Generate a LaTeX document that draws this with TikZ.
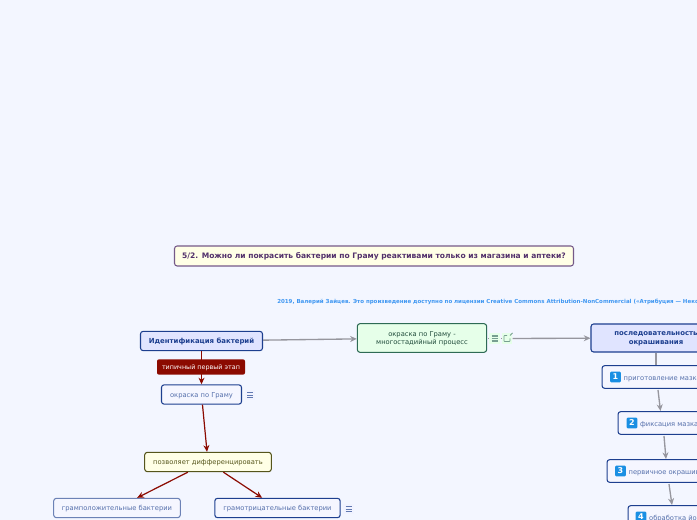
\documentclass[tikz,border=0pt]{standalone}
\usepackage{fontspec}
\setmainfont{DejaVu Sans}
\usetikzlibrary{positioning, arrows.meta, calc}
\definecolor{page}{HTML}{F3F6FF}
\definecolor{navy}{HTML}{1D3F8F}
\definecolor{lilac}{HTML}{E0E4FF}
\definecolor{pale}{HTML}{F5F6FF}
\definecolor{dunkelrot}{HTML}{8B0A00}
\definecolor{grau}{HTML}{96969E}
\definecolor{tannen}{HTML}{2E6B55}
\definecolor{mint}{HTML}{E6FFE9}
\definecolor{oliv}{HTML}{55551C}
\definecolor{creme}{HTML}{FFFFE6}
\definecolor{violett}{HTML}{52306B}
\definecolor{himmel}{HTML}{3F97F2}
\definecolor{kachel}{HTML}{1A8FE3}

\begin{document}
\begin{tikzpicture}[x=0.75pt, y=-0.75pt,
      box/.style={draw=navy, line width=0.8pt, rounded corners=2pt,
        fill=pale, text=navy!75, align=center, font=\fontsize{5.05}{6.4}\selectfont,
        inner sep=0pt, text height=5pt, text depth=1.2pt},
      zweizeilig/.style={text height=, text depth=0pt},
      wurzel/.style={box, fill=lilac, text=navy, font=\fontsize{5.2}{6.4}\selectfont\bfseries},
      frage/.style={box, draw=violett!80, fill=creme, text=violett,
        font=\fontsize{5.65}{7}\selectfont\bfseries},
      prozess/.style={box, draw=tannen, fill=mint, text=tannen!70!black},
      gelb/.style={box, draw=oliv, fill=creme, text=oliv},
      badge/.style={draw=none, rounded corners=1.5pt, fill=dunkelrot, text=white,
        font=\fontsize{4.8}{7}\selectfont, inner sep=0pt, text height=5pt, text depth=1.2pt},
      zahl/.style={fill=kachel, text=white, rounded corners=1pt, inner sep=0pt,
        minimum size=8.2pt, font=\fontsize{6}{7}\selectfont\bfseries},
      schrift/.style={anchor=west, text=navy!75, inner sep=0pt,
        font=\fontsize{5.05}{7}\selectfont, text height=6pt, text depth=1.2pt},
      rot/.style={-{Stealth[length=5pt, width=4.5pt]}, dunkelrot, line width=0.9pt},
      grauer/.style={-{Stealth[length=5pt, width=4.5pt]}, grau, line width=1pt},
      liste/.style={minimum width=8pt, minimum height=8pt, inner sep=0pt, fill=lilac!45}]
    \clip (0,0) rectangle (697,520);
    \fill[page] (0,0) rectangle (697,520);
    \node[frage, minimum width=299.25pt, minimum height=15pt] (titel) at (374,256)
      {5/2. Можно ли покрасить бактерии по Граму реактивами только из магазина и аптеки?};
    \node[anchor=west, text=himmel, inner sep=0pt, font=\fontsize{4.12}{5}\selectfont\bfseries] (lizenz) at (277,301.5)
      {2019, Валерий Зайцев. Это произведение доступно по лицензии Creative Commons Attribution-NonCommercial («Атрибуция — Некоммерческое»)};

    \node[wurzel, minimum width=91.5pt, minimum height=14.5pt] (id) at (201.5,341) {Идентификация бактерий};
    \node[box, minimum width=60pt, minimum height=14.5pt] (gram) at (201.5,394.5) {окраска по Граму};
    \node[gelb, minimum width=95pt, minimum height=14.5pt] (diff) at (208,462) {позволяет дифференцировать};
    \node[box, draw=navy!65, minimum width=95pt, minimum height=14.5pt] (plus) at (117,508) {грамположительные бактерии};
    \node[box, minimum width=94pt, minimum height=14.5pt] (minus) at (277.5,508) {грамотрицательные бактерии};
    \node[prozess, zweizeilig, minimum width=97pt, minimum height=21.5pt] (prozess) at (422,338) {окраска по Граму -\\многостадийный процесс};
    \node[wurzel, zweizeilig, minimum width=97.5pt, minimum height=21pt] (folge) at (656,338) {последовательность\\окрашивания};
    \node[box, anchor=west, minimum width=100pt, minimum height=17pt] (s1) at (601.5,377) {};
    \node[box, anchor=west, minimum width=100pt, minimum height=17pt] (s2) at (617.5,423) {};
    \node[box, anchor=west, minimum width=110pt, minimum height=17pt] (s3) at (606.5,471) {};
    \node[box, anchor=west, minimum width=100pt, minimum height=17pt] (s4) at (627.5,517) {};
    \node[zahl] (z1) at (615.5,377) {1};
    \node[zahl] (z2) at (632,423) {2};
    \node[zahl] (z3) at (620.5,471) {3};
    \node[zahl] (z4) at (641,517) {4};
    \node[schrift] (t1) at (z1.east) {\ приготовление мазка};
    \node[schrift] (t2) at (z2.east) {\ фиксация мазка};
    \node[schrift] (t3) at (z3.east) {\ первичное окрашивание};
    \node[schrift] (t4) at (z4.east) {\ обработка йодом};

    % kleine Listen-Symbole
    \node[liste] (l1) at (250,395) {};
    \node[liste] (l2) at (348.5,509) {};
    \node[liste, fill=mint] (l3) at (494.5,338.5) {};
    \node[liste, fill=mint] (l4) at (507,338.5) {};
    \foreach \n/\f/\w in {l1/navy!70/0.6pt, l2/navy!70/0.6pt, l3/tannen!65/0.9pt} {
      \draw[\f, line width=\w] ($(\n)+(-3,-2.5)$) -- ($(\n)+(3,-2.5)$)
        ($(\n)+(-3,0)$) -- ($(\n)+(3,0)$) ($(\n)+(-3,2.5)$) -- ($(\n)+(3,2.5)$);
    }
    \draw[tannen!65, line width=0.6pt, rounded corners=0.5pt] ($(l4)+(3,0)$) -- ($(l4)+(3,3)$) -- ($(l4)+(-3,3)$) -- ($(l4)+(-3,-3)$) -- ($(l4)+(0,-3)$);
    \draw[tannen!65, line width=0.6pt] (l4) -- ($(l4)+(3,-3)$);
    \draw[grau, line width=0.7pt] (prozess.east) ++(1,0) -- ++(1.2,0);
    \draw[grau, line width=0.7pt] (l3.east) ++(1,0) -- ++(1.2,0);

    \draw[grauer] (id) -- (prozess);
    \draw[grauer] (l4) -- (folge);
    \draw[grau, line width=1pt] (folge.south) -- (s1.north -| folge.south);
    \coordinate (v1) at (658,390);
    \coordinate (v2) at (664,436);
    \coordinate (v3) at (669,484);
    \coordinate (e1) at (660.5,411);
    \coordinate (e2) at (666,459);
    \coordinate (e3) at (672,505);
    \draw[grauer] (v1) -- (e1);
    \draw[grauer] (v2) -- (e2);
    \draw[grauer] (v3) -- (e3);

    \draw[rot] (id) -- (gram);
    \node[badge, minimum width=66pt, minimum height=11.5pt] (erste) at (201,367) {типичный первый этап};
    \draw[rot] (gram) -- (diff);
    \draw[rot] (diff) -- (plus);
    \draw[rot] (diff) -- (minus);
  \end{tikzpicture}
\end{document}
